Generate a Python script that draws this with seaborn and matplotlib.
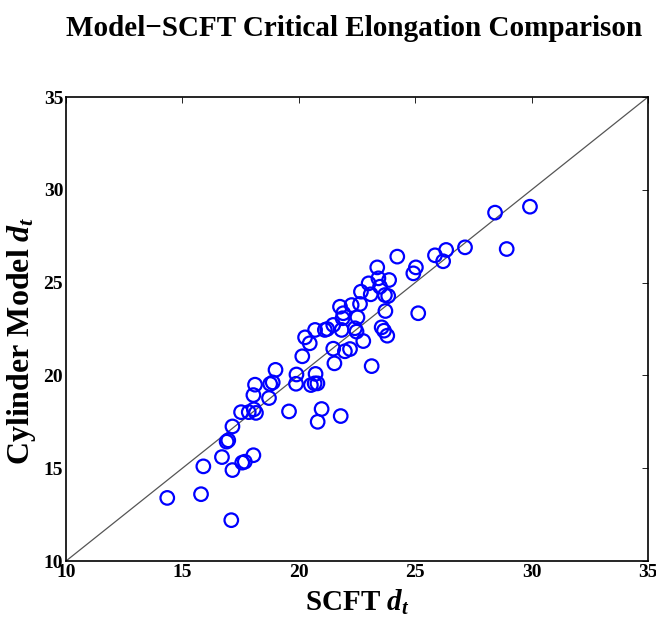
import matplotlib
matplotlib.use('Agg')
import matplotlib.pyplot as plt
import seaborn as sns
import pandas as pd

scft_dt = [14.35, 15.8, 15.9, 17.1, 16.7, 17.15, 17.57, 17.68, 18.05, 16.9,
           16.97, 17.15, 17.52, 17.85, 18.07, 18.16, 18.05, 18.12, 18.72, 18.77,
           18.88, 19.0, 19.58, 19.9, 19.88, 20.15, 20.27, 20.47, 20.52, 20.68,
           20.8, 20.72, 20.98, 20.81, 21.8, 21.48, 21.53, 21.98, 22.2, 22.77,
           23.13, 20.7, 21.12, 21.22, 21.48, 21.84, 22.41, 22.48, 21.77, 21.91,
           21.88, 22.52, 22.27, 22.63, 22.67, 23.09, 23.0, 23.49, 23.42, 23.37,
           23.88, 23.7, 23.84, 23.72, 23.56, 23.66, 23.8, 24.23, 24.92, 25.03,
           25.13, 25.85, 26.2, 26.33, 27.14, 28.43, 28.93, 29.93]
model_dt = [13.4, 13.6, 15.1, 12.2, 15.6, 14.9, 15.3, 15.35, 15.7, 16.43,
            16.5, 17.25, 18.02, 18.02, 18.17, 17.98, 18.94, 19.5, 18.78, 19.54,
            19.62, 20.3, 18.06, 20.05, 19.55, 21.03, 22.05, 21.73, 19.48, 19.57,
            19.57, 20.08, 18.19, 17.5, 17.81, 21.44, 20.65, 21.3, 21.42, 21.85,
            20.5, 22.45, 22.45, 22.5, 22.72, 22.45, 22.54, 22.36, 23.7, 23.35,
            23.08, 23.13, 23.79, 23.85, 24.51, 24.37, 24.96, 24.78, 25.23, 25.82,
            25.14, 24.33, 24.28, 23.47, 22.59, 22.41, 22.14, 26.4, 25.5, 25.82,
            23.35, 26.47, 26.15, 26.76, 26.9, 28.77, 26.81, 29.09]
ticks = [10, 15, 20, 25, 30, 35]

df = pd.DataFrame({'SCFT': scft_dt, 'Model': model_dt})

sns.set_style('white')
plt.rcParams['font.family'] = ['Liberation Serif', 'DejaVu Serif']
plt.rcParams['text.color'] = 'black'
plt.rcParams['axes.labelcolor'] = 'black'
plt.rcParams['mathtext.fontset'] = 'custom'
plt.rcParams['mathtext.it'] = 'Liberation Serif:italic:bold'
plt.rcParams['mathtext.rm'] = 'Liberation Serif:bold'

fig = plt.figure(figsize=(6.56, 6.23), dpi=100)
ax = fig.add_axes([0.1006, 0.0995, 0.8872, 0.7448])

# y = x reference line
ax.plot([10, 35], [10, 35], color='#555555', lw=0.9, zorder=1)

sns.scatterplot(data=df, x='SCFT', y='Model', ax=ax, marker='o', s=95,
                facecolors='none', edgecolor='#0000ff', linewidth=1.6, zorder=2)

ax.set_xlim(10, 35)
ax.set_ylim(10, 35)
ax.set_xticks(ticks)
ax.set_yticks(ticks)
ax.tick_params(direction='in', length=4, width=0.6, top=True, right=True,
               labelsize=14, pad=2, colors='black')
for lab in ax.get_xticklabels() + ax.get_yticklabels():
    lab.set_fontweight('bold')
for sp in ax.spines.values():
    sp.set_color('black')
    sp.set_linewidth(1.2)

ax.set_xlabel(r'SCFT $d_t$', fontsize=21, fontweight='bold', labelpad=5)
ax.set_ylabel(r'Cylinder Model $d_t$', fontsize=23, fontweight='bold')
ax.yaxis.set_label_coords(-0.048, 0.475)
fig.text(0.54, 0.955, 'Model\u2212SCFT Critical Elongation Comparison',
         ha='center', va='center', fontsize=21, fontweight='bold')

fig.savefig('out.png', dpi=100)
